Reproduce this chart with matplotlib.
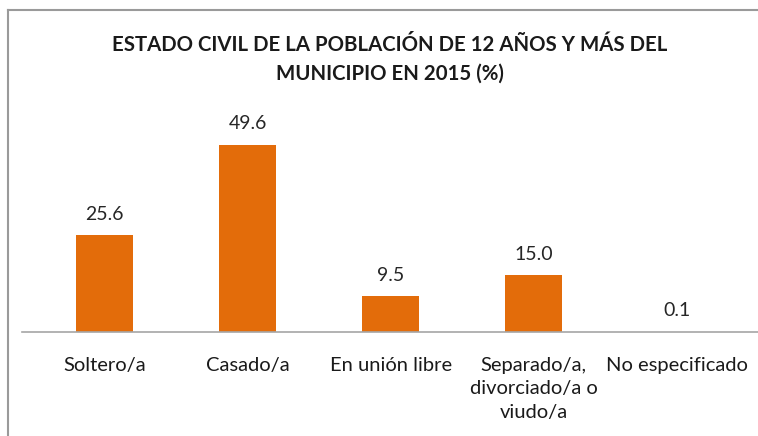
import matplotlib.pyplot as plt
from matplotlib.lines import Line2D

categories = ["Soltero/a", "Casado/a", "En unión libre",
              "Separado/a,\ndivorciado/a o\nviudo/a", "No especificado"]
values = [25.6, 49.6, 9.5, 15.0, 0.1]
title = "ESTADO CIVIL DE LA POBLACIÓN DE 12 AÑOS Y MÁS DEL\nMUNICIPIO EN 2015 (%)"

plt.rcParams['font.family'] = ['Lato', 'DejaVu Sans']

fig = plt.figure(figsize=(7.58, 4.36), dpi=100)
W, H = 758, 436
ax = fig.add_axes([22 / W, 1 - 332 / H, (758 - 22) / W, (332 - 100) / H])

x = list(range(len(categories)))
bars = ax.bar(x, values, width=0.4, color="#E36C0A", zorder=2)
for xi, v in zip(x, values):
    ax.text(xi, v + 3.3, f"{v:.1f}", ha="center", va="bottom",
            fontsize=14, color="#262626")

ax.set_xlim(-0.58, 4.57)
ax.set_ylim(0, 61.5)
ax.set_yticks([])
ax.set_xticks(x)
ax.set_xticklabels(categories, fontsize=14.5, color="#1a1a1a", linespacing=1.45)
ax.tick_params(axis="x", length=0, pad=18)
for side in ["top", "right", "left"]:
    ax.spines[side].set_visible(False)
ax.spines["bottom"].set_color("#a6a6a6")
ax.spines["bottom"].set_linewidth(1.2)

fig.text(390 / W, 1 - 59 / H, title, ha="center", va="center",
         fontsize=14.7, fontweight="bold", color="#1a1a1a", linespacing=1.55)

# outer frame of the chart area
fig.add_artist(Line2D([8 / W, 8 / W], [0, 1 - 10 / H], color="#9a9a9a", lw=1.5))
fig.add_artist(Line2D([8 / W, 1], [1 - 10 / H, 1 - 10 / H], color="#9a9a9a", lw=1.5))

fig.savefig("out.png", dpi=100)
